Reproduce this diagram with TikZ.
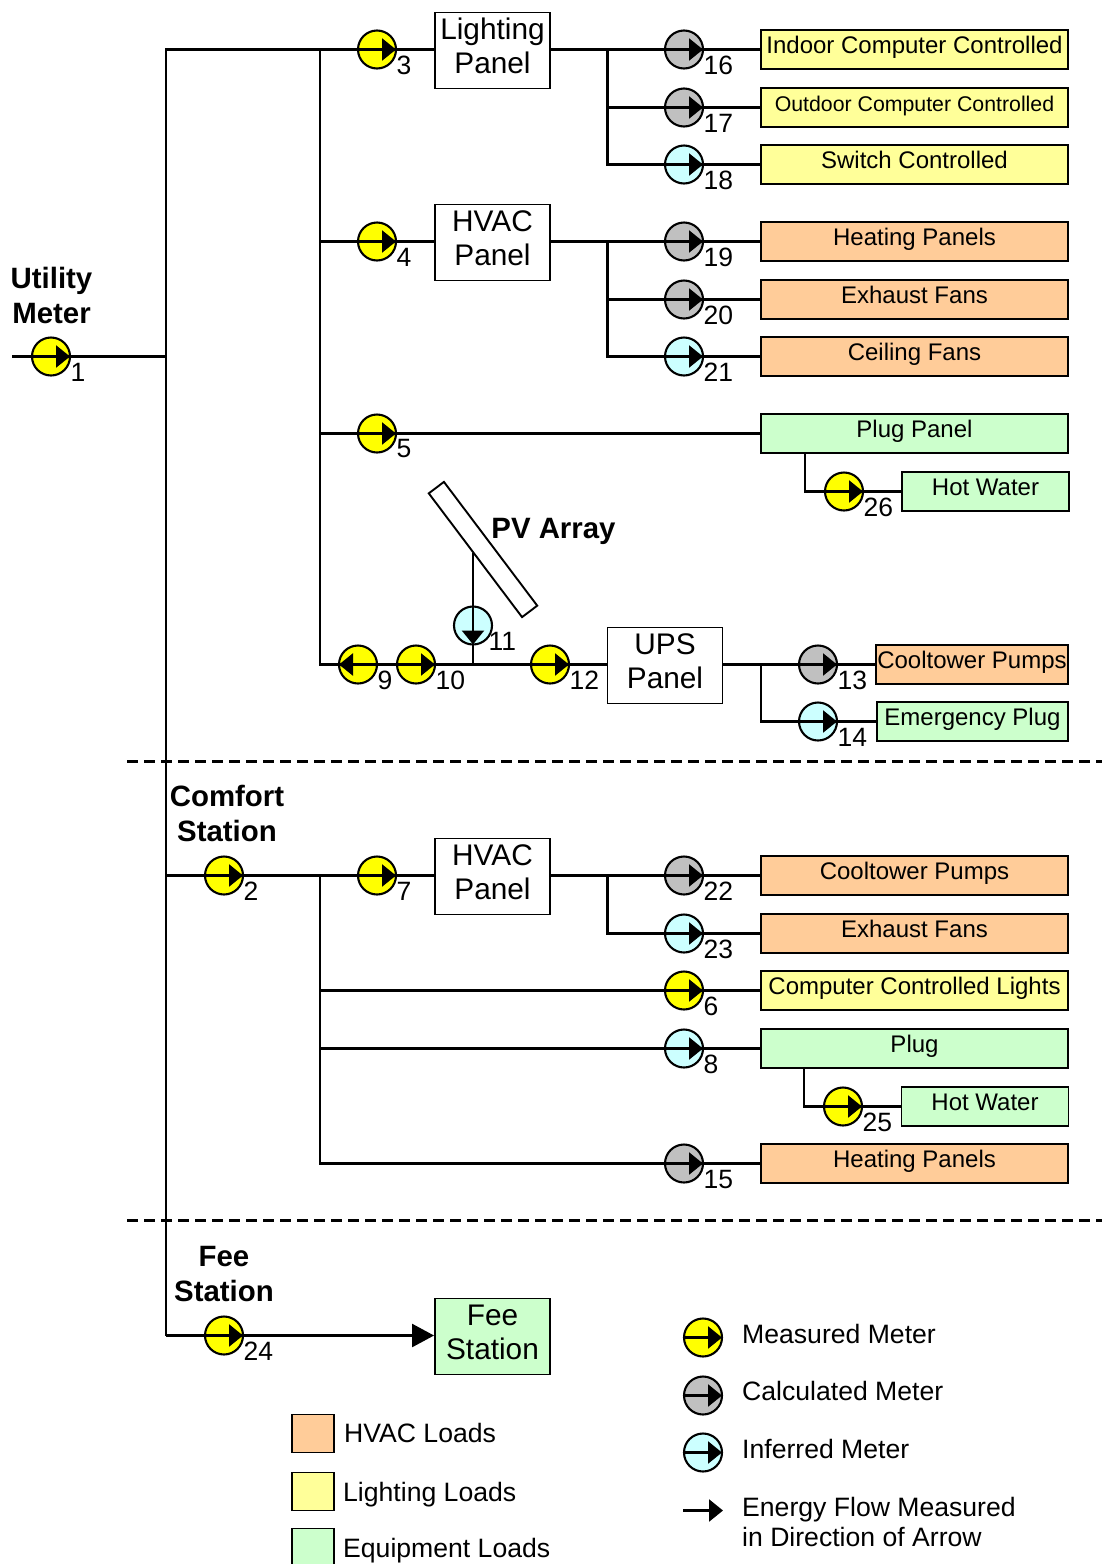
\documentclass[tikz,border=0pt]{standalone}
\usepackage{fontspec}
\setmainfont{Liberation Sans}
\usetikzlibrary{arrows.meta}

\definecolor{measuredcol}{HTML}{FFFF00}
\definecolor{calculatedcol}{HTML}{C0C0C0}
\definecolor{inferredcol}{HTML}{CCFFFF}
\definecolor{hvaccol}{HTML}{FFCC99}
\definecolor{lightcol}{HTML}{FFFF99}
\definecolor{equipcol}{HTML}{CCFFCC}

\tikzset{
  wire/.style={line width=2.5pt},
  sepline/.style={line width=2.5pt,dash pattern=on 11pt off 6pt},
  flowtip/.style={wire,-{Triangle[length=14pt,width=22pt]}},
  meterdot/.style={circle,draw,line width=2.1pt,minimum size=38pt,inner sep=0pt,outer sep=0pt},
  measured/.style={meterdot,fill=measuredcol},
  calculated/.style={meterdot,fill=calculatedcol},
  inferred/.style={meterdot,fill=inferredcol},
  meternum/.style={anchor=west,inner sep=0pt,font=\fontsize{26.5}{30}\selectfont},
  panelbox/.style={draw,fill=white,line width=1.9pt,minimum width=115pt,inner sep=0pt,
    text height=60.5pt,text depth=15.5pt,align=center,font=\fontsize{29.8}{34}\selectfont},
  loadbox/.style={draw,line width=1.9pt,minimum width=307pt,inner xsep=0pt,inner ysep=0pt,
    text height=23pt,text depth=16pt,font=\fontsize{24}{28}\selectfont},
  swatch/.style={draw,line width=1.9pt,minimum width=42pt,minimum height=38pt,inner sep=0pt},
  heading/.style={align=center,inner sep=0pt,font=\fontsize{29.4}{34.5}\selectfont\bfseries},
  legendtext/.style={anchor=west,inner sep=0pt,align=left,font=\fontsize{26.6}{30}\selectfont},
}

% number, x, y, kind, direction of the arrow
\newcommand{\meter}[6][19.5pt]{
  \node[#5] (m#2) at (#3,#4) {};
  \draw[flowtip] (m#2.center) -- (m#2.#6);
  \node[meternum] (n#2) at ([xshift=#1,yshift=-15.5pt]m#2.center) {#2};
}

\begin{document}
\begin{tikzpicture}[x=1pt,y=-1pt]
\useasboundingbox (0,-0.5) rectangle (1102,1563.5);

% panels
\node[panelbox] (lightpanel) at (492.5,50) {Lighting\\Panel};
\node[panelbox] (hvacpanel) at (492.5,242) {HVAC\\Panel};
\node[panelbox] (upspanel) at (665,665) {UPS\\Panel};
\node[panelbox] (comfortpanel) at (492.5,876) {HVAC\\Panel};
\node[panelbox,fill=equipcol] (feepanel) at (492.5,1336) {Fee\\Station};

% loads
\node[loadbox,fill=lightcol] (indoor) at (914.5,49) {Indoor Computer Controlled};
\node[loadbox,fill=lightcol,font=\fontsize{21.3}{24}\selectfont] (outdoor) at (914.5,107) {Outdoor Computer Controlled};
\node[loadbox,fill=lightcol] (switched) at (914.5,164) {Switch Controlled};
\node[loadbox,fill=hvaccol] (heating) at (914.5,241) {Heating Panels};
\node[loadbox,fill=hvaccol] (exhaust) at (914.5,299) {Exhaust Fans};
\node[loadbox,fill=hvaccol] (ceiling) at (914.5,356) {Ceiling Fans};
\node[loadbox,fill=equipcol] (plugpanel) at (914.5,433) {Plug Panel};
\node[loadbox,fill=equipcol,minimum width=167pt] (hotwater) at (985.5,491) {Hot Water};
\node[loadbox,fill=hvaccol,minimum width=192pt] (upspumps) at (972,664) {Cooltower Pumps};
\node[loadbox,fill=equipcol,minimum width=191pt] (upsplug) at (972.5,721) {Emergency Plug};
\node[loadbox,fill=hvaccol] (comfortpumps) at (914.5,875) {Cooltower Pumps};
\node[loadbox,fill=hvaccol] (comfortfans) at (914.5,933) {Exhaust Fans};
\node[loadbox,fill=lightcol] (comfortlights) at (914.5,990) {Computer Controlled Lights};
\node[loadbox,fill=equipcol] (comfortplug) at (914.5,1048) {Plug};
\node[loadbox,fill=equipcol,minimum width=167pt] (comfortwater) at (985,1106) {Hot Water};
\node[loadbox,fill=hvaccol] (comfortheat) at (914.5,1163) {Heating Panels};

% pv array
\node[draw,fill=white,line width=1.9pt,rotate=-53,minimum width=155pt,minimum height=19pt,inner sep=0pt] (pvarray) at (483,549) {};
\node[heading] (pvtext) at (553.5,531) {PV Array};

% meters
\meter{1}{51}{356}{measured}{0}
\meter{2}{224}{875}{measured}{0}
\meter{3}{377}{49}{measured}{0}
\meter{4}{377}{241}{measured}{0}
\meter{5}{377}{433}{measured}{0}
\meter{6}{684}{990}{measured}{0}
\meter{7}{377}{875}{measured}{0}
\meter{8}{684}{1048}{inferred}{0}
\meter{9}{358}{664}{measured}{180}
\meter{10}{416}{664}{measured}{0}
\meter[15.5pt]{11}{473}{625}{inferred}{270}
\meter{12}{550}{664}{measured}{0}
\meter{13}{818}{664}{calculated}{0}
\meter{14}{818}{721}{inferred}{0}
\meter{15}{684}{1163}{calculated}{0}
\meter{16}{684}{49}{calculated}{0}
\meter{17}{684}{107}{calculated}{0}
\meter{18}{684}{164}{inferred}{0}
\meter{19}{684}{241}{calculated}{0}
\meter{20}{684}{299}{calculated}{0}
\meter{21}{684}{356}{inferred}{0}
\meter{22}{684}{875}{calculated}{0}
\meter{23}{684}{933}{inferred}{0}
\meter{24}{224}{1335}{measured}{0}
\meter{25}{843}{1106}{measured}{0}
\meter{26}{844}{491}{measured}{0}

% free ends and junctions
\coordinate (utilstart) at (12,356);
\coordinate (bustop) at (166,49);
\coordinate (busutil) at (166,356);
\coordinate (buscomfort) at (166,875);
\coordinate (busfee) at (166,1335);
\coordinate (feedtop) at (320,49);
\coordinate (feedhvac) at (320,241);
\coordinate (feedplug) at (320,433);
\coordinate (feedups) at (320,664);
\coordinate (lightjoin) at (607.5,49);
\coordinate (hvacjoin) at (607.5,241);
\coordinate (plugdrop) at (805,452);
\coordinate (pvfoot) at (473,552);
\coordinate (pvjoin) at (473,664);
\coordinate (upsjoin) at (761,664);
\coordinate (comfortjoin) at (320,875);
\coordinate (fanjoin) at (607.5,875);
\coordinate (lightsfeed) at (320,990);
\coordinate (plugfeed) at (320,1048);
\coordinate (heatfeed) at (320,1163);
\coordinate (waterdrop) at (804,1067);

% main feeders
\draw[wire] (utilstart) -- (m1.center) -- (busutil);
\draw[wire] (busfee) -- (bustop) -- (m3.center) -- (m3.center -| lightpanel.west);
\draw[wire] (feedtop) -- (feedups) -- (m9.center) -- (m10.center) -- (m12.center) -- (m12.center -| upspanel.west);
\draw[wire] (feedhvac) -- (m4.center) -- (m4.center -| hvacpanel.west);
\draw[wire] (feedplug) -- (m5.center) -- (m5.center -| plugpanel.west);

% lighting and hvac branches
\draw[wire] (m16.center -| lightpanel.east) -- (m16.center) -- (m16.center -| indoor.west);
\draw[wire] (lightjoin) |- (m17.center) -- (m17.center -| outdoor.west);
\draw[wire] (lightjoin) |- (m18.center) -- (m18.center -| switched.west);
\draw[wire] (m19.center -| hvacpanel.east) -- (m19.center) -- (m19.center -| heating.west);
\draw[wire] (hvacjoin) |- (m20.center) -- (m20.center -| exhaust.west);
\draw[wire] (hvacjoin) |- (m21.center) -- (m21.center -| ceiling.west);
\draw[wire] (plugdrop) |- (m26.center) -- (m26.center -| hotwater.west);

% pv and ups
\draw[wire] (pvfoot) -- (m11.center) -- (pvjoin);
\draw[wire] (m13.center -| upspanel.east) -- (m13.center) -- (m13.center -| upspumps.west);
\draw[wire] (upsjoin) |- (m14.center) -- (m14.center -| upsplug.west);

% comfort station
\draw[wire] (buscomfort) -- (m2.center) -- (m7.center) -- (m7.center -| comfortpanel.west);
\draw[wire] (m22.center -| comfortpanel.east) -- (m22.center) -- (m22.center -| comfortpumps.west);
\draw[wire] (fanjoin) |- (m23.center) -- (m23.center -| comfortfans.west);
\draw[wire] (comfortjoin) -- (heatfeed) -- (m15.center) -- (m15.center -| comfortheat.west);
\draw[wire] (lightsfeed) -- (m6.center) -- (m6.center -| comfortlights.west);
\draw[wire] (plugfeed) -- (m8.center) -- (m8.center -| comfortplug.west);
\draw[wire] (waterdrop) |- (m25.center) -- (m25.center -| comfortwater.west);

% fee station
\draw[wire,-{Triangle[length=22pt,width=23pt]}] (busfee) -- (m24.center) -- (m24.center -| feepanel.west);

% section lines
\coordinate (sepastart) at (127,761);
\coordinate (sepaend) at (1102,761);
\coordinate (sepbstart) at (127,1220);
\coordinate (sepbend) at (1102,1220);
\draw[sepline] (sepastart) -- (sepaend);
\draw[sepline] (sepbstart) -- (sepbend);

% headings
\node[heading] (utiltext) at (51.5,295) {Utility\\Meter};
\node[heading] (comforttext) at (227,813) {Comfort\\Station};
\node[heading] (feetext) at (224,1273.5) {Fee\\Station};

% legend
\node[swatch,fill=hvaccol] (hvacswatch) at (313,1433) {};
\node[swatch,fill=lightcol] (lightswatch) at (313,1491) {};
\node[swatch,fill=equipcol] (equipswatch) at (313,1547) {};
\node[legendtext] (hvaclegend) at (344,1432.5) {HVAC Loads};
\node[legendtext] (lightlegend) at (343,1494.5) {Lighting Loads};
\node[legendtext] (equiplegend) at (343,1550.5) {Equipment Loads};

\node[measured] (keymeasured) at (703,1337) {};
\node[calculated] (keycalculated) at (703,1395) {};
\node[inferred] (keyinferred) at (703,1452) {};
\draw[flowtip] (keymeasured.west) -- (keymeasured.east);
\draw[flowtip] (keycalculated.west) -- (keycalculated.east);
\draw[flowtip] (keyinferred.west) -- (keyinferred.east);
\coordinate (keystart) at (683,1510);
\coordinate (keyend) at (723,1510);
\draw[flowtip] (keystart) -- (keyend);
\node[legendtext] (measuredtext) at (742,1333.5) {Measured Meter};
\node[legendtext] (calculatedtext) at (742,1390.5) {Calculated Meter};
\node[legendtext] (inferredtext) at (742,1448.5) {Inferred Meter};
\node[legendtext] (flowtext) at (742,1521.5) {Energy Flow Measured\\in Direction of Arrow};
\end{tikzpicture}
\end{document}
